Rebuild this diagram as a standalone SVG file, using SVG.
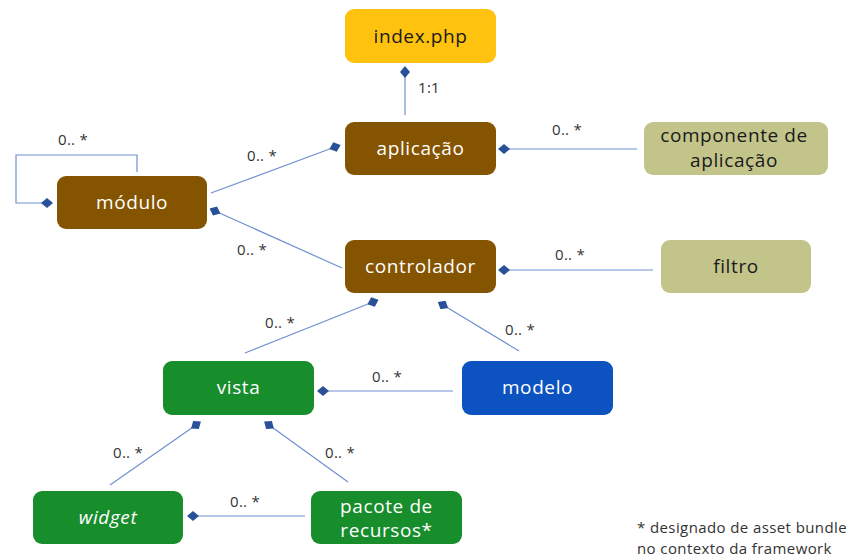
<svg xmlns="http://www.w3.org/2000/svg" width="854" height="558" viewBox="0 0 854 558">
  <defs>
    <marker id="dia" viewBox="0 0 12 10" refX="6" refY="5" markerWidth="12" markerHeight="10" markerUnits="userSpaceOnUse" orient="auto">
      <path d="M0,5 L6,0 L12,5 L6,10 Z" fill="#2a5198"/>
    </marker>
    <style>
      .box { stroke: none; }
      .brown { fill: #855400; }
      .yellow { fill: #ffc20e; }
      .khaki { fill: #c2c48a; }
      .green { fill: #178d2c; }
      .blue { fill: #0c52c1; }
      .t { font-family: "Open Sans", Lato, "Liberation Sans", sans-serif; font-size: 19px; letter-spacing: 0.6px; text-anchor: middle; }
      .light { fill: #ffffff; }
      .dark { fill: #1a1a1a; }
      .conn path { fill: none; stroke: #6f90cf; stroke-width: 1.2; marker-end: url(#dia); }
      .lbl { font-family: "Open Sans", Lato, "Liberation Sans", sans-serif; font-size: 15px; letter-spacing: 0.3px; fill: #333333; }
      .note { font-family: "Open Sans", Lato, "Liberation Sans", sans-serif; font-size: 15px; letter-spacing: 0.4px; fill: #333333; }
    </style>
  </defs>
  <rect width="854" height="558" fill="#ffffff"/>

  <!-- connectors: the diamond sits on the owning end -->
  <g id="connectors" class="conn">
    <path d="M405,115 L405,72"/>
    <path d="M137,172 L137,155 L16,155 L16,203 L47,203"/>
    <path d="M211,193 L335,147"/>
    <path d="M342,268 L215,211"/>
    <path d="M637,149 L504,149"/>
    <path d="M653,270 L504,270"/>
    <path d="M245,353 L373,302"/>
    <path d="M519,351 L443,305"/>
    <path d="M453,391 L323,391"/>
    <path d="M110,485 L196,425"/>
    <path d="M348,482 L269,425"/>
    <path d="M305,516 L193,516"/>
  </g>

  <g id="labels">
    <text class="lbl" x="418" y="93">1:1</text>
    <text class="lbl" x="58" y="145">0.. *</text>
    <text class="lbl" x="247" y="161">0.. *</text>
    <text class="lbl" x="237" y="255">0.. *</text>
    <text class="lbl" x="552" y="135">0.. *</text>
    <text class="lbl" x="555" y="260">0.. *</text>
    <text class="lbl" x="265" y="328">0.. *</text>
    <text class="lbl" x="505" y="335">0.. *</text>
    <text class="lbl" x="372" y="382">0.. *</text>
    <text class="lbl" x="113" y="458">0.. *</text>
    <text class="lbl" x="325" y="458">0.. *</text>
    <text class="lbl" x="230" y="507">0.. *</text>
  </g>

  <g id="index-php">
    <rect class="box yellow" x="345" y="9" width="151" height="54" rx="9"/>
    <text class="t dark" x="420.5" y="42.5">index.php</text>
  </g>
  <g id="aplicacao">
    <rect class="box brown" x="345" y="122" width="151" height="53" rx="9"/>
    <text class="t light" x="420.5" y="155">aplicação</text>
  </g>
  <g id="componente">
    <rect class="box khaki" x="644" y="122" width="184" height="53" rx="9"/>
    <text class="t dark" x="734" y="142">componente de</text>
    <text class="t dark" x="734" y="167">aplicação</text>
  </g>
  <g id="modulo">
    <rect class="box brown" x="57" y="176" width="150" height="53" rx="9"/>
    <text class="t light" x="132" y="209">módulo</text>
  </g>
  <g id="controlador">
    <rect class="box brown" x="345" y="240" width="151" height="53" rx="9"/>
    <text class="t light" x="420.5" y="273">controlador</text>
  </g>
  <g id="filtro">
    <rect class="box khaki" x="661" y="240" width="150" height="53" rx="9"/>
    <text class="t dark" x="736" y="273">filtro</text>
  </g>
  <g id="vista">
    <rect class="box green" x="163" y="361" width="151" height="54" rx="9"/>
    <text class="t light" x="238.5" y="394">vista</text>
  </g>
  <g id="modelo">
    <rect class="box blue" x="462" y="361" width="151" height="54" rx="9"/>
    <text class="t light" x="537.5" y="394">modelo</text>
  </g>
  <g id="widget">
    <rect class="box green" x="33" y="491" width="150" height="53" rx="9"/>
    <text class="t light" x="108" y="524" font-style="italic">widget</text>
  </g>
  <g id="pacote">
    <rect class="box green" x="311" y="491" width="151" height="53" rx="9"/>
    <text class="t light" x="386.5" y="513">pacote de</text>
    <text class="t light" x="386.5" y="537">recursos*</text>
  </g>

  <g id="footnote">
    <text class="note" x="637" y="533">* designado de asset bundle</text>
    <text class="note" x="637" y="554">no contexto da framework</text>
  </g>
</svg>
